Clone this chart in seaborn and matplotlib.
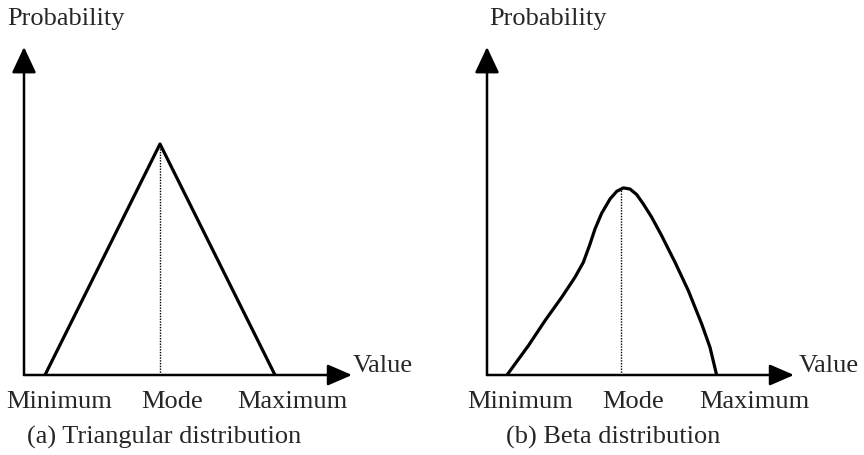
import matplotlib
matplotlib.use('Agg')
import matplotlib.pyplot as plt
import numpy as np
import pandas as pd
import seaborn as sns

sns.set_theme(style='white')
plt.rcParams['font.family'] = ['Liberation Serif', 'DejaVu Serif']

# triangular distribution: min, mode, max (value units), probability relative to peak
triValue = [0.0, 1.0, 2.0]
triProb = [0.0, 1.0, 0.0]

# beta distribution
betaValue = [0.0, 0.186, 0.330, 0.475, 0.591, 0.664, 0.722, 0.765, 0.823, 0.896, 0.954,
             1.012, 1.070, 1.128, 1.186, 1.258, 1.345, 1.461, 1.577, 1.693, 1.765, 1.823]
betaProb = [0.0, 0.127, 0.235, 0.336, 0.423, 0.488, 0.567, 0.632, 0.700, 0.762, 0.795,
            0.810, 0.805, 0.781, 0.740, 0.683, 0.603, 0.488, 0.365, 0.221, 0.120, 0.0]

triMode, triPeak = 1.0, 1.0
betaMode, betaPeak = 0.995, 0.810

tickLabels = ['Minimum', 'Mode', 'Maximum']
captions = ['(a) Triangular distribution', '(b) Beta distribution']
yLabel = 'Probability'
xLabel = 'Value'

W, H = 864, 456
FS = 19

def px(x, y):# pixel (top-down) -> figure fraction
    return x / W, 1 - y / H

def makeAxes(fig, x0, x1, y0, y1, xlim, ylim):
    ax = fig.add_axes([x0 / W, 1 - y0 / H, (x1 - x0) / W, (y0 - y1) / H])
    ax.set_xlim(*xlim)
    ax.set_ylim(*ylim)
    ax.set_axis_off()
    # axis arrows
    ax.annotate('', xy=(1, 0), xytext=(0, 0), xycoords='axes fraction',
                arrowprops=dict(arrowstyle='-|>,head_length=15,head_width=6.5', mutation_scale=1,
                                lw=1.8, color='black', shrinkA=0, shrinkB=0), annotation_clip=False)
    ax.annotate('', xy=(0, 1), xytext=(0, 0), xycoords='axes fraction',
                arrowprops=dict(arrowstyle='-|>,head_length=16,head_width=7.5', mutation_scale=1,
                                lw=1.8, color='black', shrinkA=0, shrinkB=0), annotation_clip=False)
    return ax

fig = plt.figure(figsize=(W / 100, H / 100), dpi=100)

# left panel: origin (24, 376), tips at x=352, y=48; 1 value unit = 115 px, 1 prob unit = 231 px
ax1 = makeAxes(fig, 24, 352, 376, 48, ((24 - 45) / 115, (352 - 45) / 115), (0, (376 - 48) / 231))
triDf = pd.DataFrame({'value': triValue, 'prob': triProb})
sns.lineplot(data=triDf, x='value', y='prob', sort=False, color='black', lw=2.3, ax=ax1)
ax1.plot([triMode, triMode], [0, triPeak], color='black', lw=1.0, ls=(0, (1, 1)))

# right panel: origin (487, 376), tips at x=794, y=48
ax2 = makeAxes(fig, 487, 794, 376, 48, ((487 - 507) / 115, (794 - 507) / 115), (0, (376 - 48) / 231))
betaDf = pd.DataFrame({'value': betaValue, 'prob': betaProb})
sns.lineplot(data=betaDf, x='value', y='prob', sort=False, color='black', lw=2.3, ax=ax2)
ax2.plot([betaMode, betaMode], [0, betaPeak], color='black', lw=1.0, ls=(0, (1, 1)))

# labels
for (lx, vx, tickX, capX, cap) in [(7, 353, [59, 172, 292], 164, captions[0]),
                                   (489, 799, [520, 633, 754], 613, captions[1])]:
    fig.text(*px(lx, 25), yLabel, fontsize=FS, ha='left', va='baseline')
    fig.text(*px(vx, 372), xLabel, fontsize=FS, ha='left', va='baseline')
    for tx, lab in zip(tickX, tickLabels):
        fig.text(*px(tx, 408), lab, fontsize=FS, ha='center', va='baseline')
    fig.text(*px(capX, 444), cap, fontsize=FS, ha='center', va='baseline')

fig.savefig('out.png', dpi=100, facecolor='white')
